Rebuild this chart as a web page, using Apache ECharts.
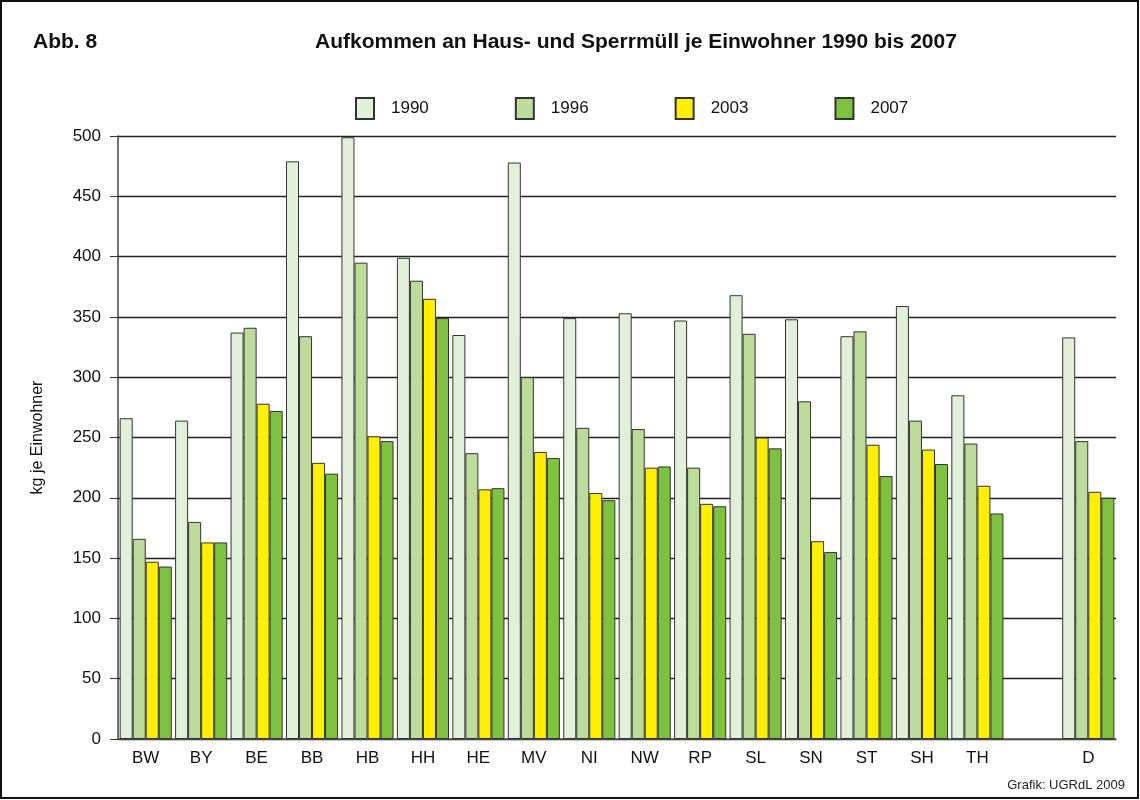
<!DOCTYPE html>
<html>
<head>
<meta charset="utf-8">
<script src="https://cdn.jsdelivr.net/npm/echarts@6/dist/echarts.min.js"></script>
<style>
  html, body { margin: 0; padding: 0; background: #fff; }
  #chart { width: 1140px; height: 800px; }
</style>
</head>
<body>
<div id="chart"></div>
<script>
var laender = ['BW', 'BY', 'BE', 'BB', 'HB', 'HH', 'HE', 'MV', 'NI', 'NW', 'RP', 'SL', 'SN', 'ST', 'SH', 'TH', '', 'D'];
var jahre = ['1990', '1996', '2003', '2007'];
var werte1990 = [266, 264, 337, 479, 499, 399, 335, 478, 349, 353, 347, 368, 348, 334, 359, 285, null, 333];
var werte1996 = [166, 180, 341, 334, 395, 380, 237, 300, 258, 257, 225, 336, 280, 338, 264, 245, null, 247];
var werte2003 = [147, 163, 278, 229, 251, 365, 207, 238, 204, 225, 195, 250, 164, 244, 240, 210, null, 205];
var werte2007 = [143, 163, 272, 220, 247, 349, 208, 233, 198, 226, 193, 241, 155, 218, 228, 187, null, 200];
var farben = ['#e2efd9', '#bddc9c', '#ffef00', '#7fc241'];

var font = '"Liberation Sans", Arial, sans-serif';
var reihen = [werte1990, werte1996, werte2003, werte2007];

var series = reihen.map(function (d, i) {
    return {
        name: jahre[i],
        type: 'bar',
        data: d,
        barGap: '0%',
        barCategoryGap: '6%',
        itemStyle: {
            color: farben[i],
            borderColor: '#333',
            borderWidth: 1
        }
    };
});

var option = {
    backgroundColor: '#fff',
    animation: false,
    textStyle: { fontFamily: font },
    title: [
        {
            text: 'Abb. 8',
            left: 28, top: 27,
            textStyle: { fontFamily: font, fontSize: 21, fontWeight: 'bold', color: '#111' }
        },
        {
            text: 'Aufkommen an Haus- und Sperrmüll je Einwohner 1990 bis 2007',
            left: 310, top: 27,
            textStyle: { fontFamily: font, fontSize: 21, fontWeight: 'bold', color: '#111' }
        },
        {
            text: 'Grafik: UGRdL 2009',
            right: 10, top: 774,
            textStyle: { fontFamily: font, fontSize: 13, fontWeight: 'normal', color: '#222' }
        }
    ],
    legend: {
        data: jahre,
        icon: 'rect',
        left: 350, top: 92,
        itemWidth: 18, itemHeight: 21,
        itemGap: 86,
        textStyle: { fontFamily: font, fontSize: 17, color: '#111', padding: [0, 0, 0, 12] }
    },
    graphic: [{
        type: 'rect',
        shape: { x: 1, y: 1, width: 1137, height: 797 },
        style: { fill: 'none', stroke: '#111', lineWidth: 2 },
        silent: true
    }],
    grid: { left: 118, right: 24, top: 136, bottom: 61 },
    xAxis: {
        type: 'category',
        data: laender,
        axisLine: { lineStyle: { color: '#555', width: 1.5 } },
        axisTick: { show: false },
        axisLabel: { fontFamily: font, fontSize: 17, color: '#111', margin: 11 }
    },
    yAxis: {
        type: 'value',
        min: 0, max: 500, interval: 50,
        name: 'kg je Einwohner',
        nameLocation: 'middle',
        nameGap: 72,
        nameTextStyle: { fontFamily: font, fontSize: 16, color: '#111' },
        axisLine: { show: true, lineStyle: { color: '#444', width: 1.5 } },
        axisTick: { show: true, length: 8, lineStyle: { color: '#333' } },
        axisLabel: { fontFamily: font, fontSize: 17, color: '#111', margin: 17 },
        splitLine: { lineStyle: { color: '#222', width: 1.3 } }
    },
    series: series
};

var myChart = echarts.init(document.getElementById('chart'));
myChart.setOption(option);
</script>
</body>
</html>
